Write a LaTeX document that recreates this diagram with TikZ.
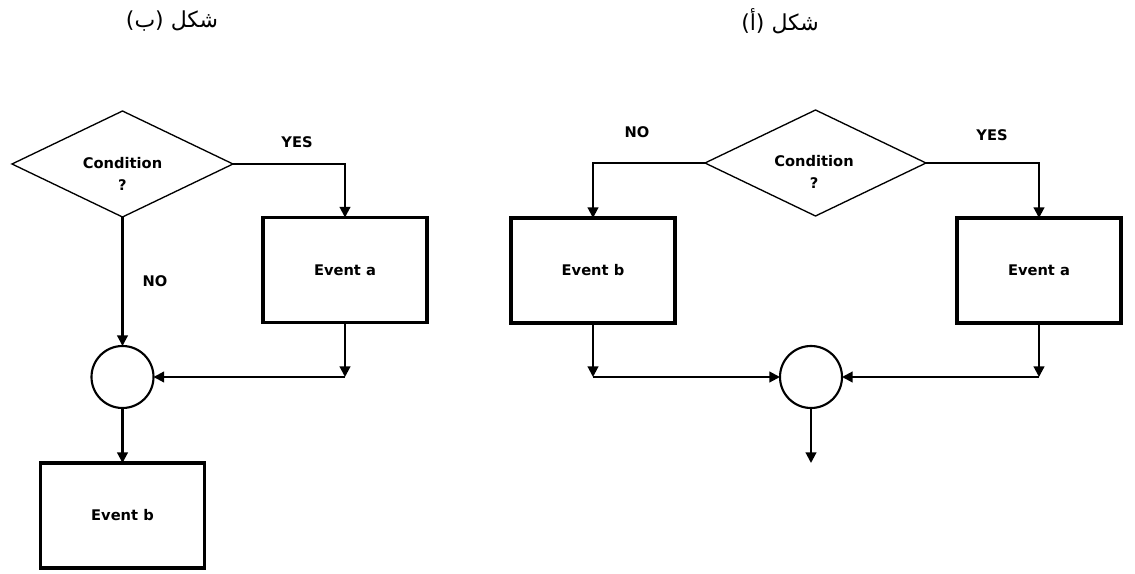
\documentclass[tikz,border=0pt]{standalone}
\usepackage{fontspec}
\setmainfont{DejaVu Sans}
\newfontfamily\arabicfont[Script=Arabic]{DejaVu Sans}
\TeXXeTstate=1
\usetikzlibrary{shapes.geometric,arrows.meta}

\tikzset{
  decision/.style={draw, shape=diamond, line width=1pt, inner sep=0pt, outer sep=0pt,
    minimum width=165.75pt, minimum height=79.5pt},
  eventbox/.style={draw, rectangle, line width=2.4pt, inner sep=0pt, outer sep=0pt,
    minimum width=123pt, minimum height=78.75pt, font=\fontsize{11}{13}\selectfont\bfseries},
  joint/.style={draw, circle, line width=1.6pt, inner sep=0pt, outer sep=0pt, minimum size=46.5pt},
  conn/.style={line width=1.6pt, -{Triangle[length=8pt,width=8pt]}},
  lbl/.style={font=\fontsize{11}{16.5}\selectfont\bfseries, inner sep=0pt, align=center},
  heading/.style={font=\fontsize{16.5}{18}\arabicfont, inner sep=0pt}
}

\begin{document}
\begin{tikzpicture}[x=0.75pt, y=-0.75pt]
\useasboundingbox (0,0) rectangle (1135,574);

% ---------- figure (b): left ----------
\node[heading] (titleB) at (172,21) {\beginR شكل (ب)\endR};

\node[decision] (condL) at (122.5,164) {};
\node[lbl] (condLtxt) at (122.5,174) {Condition\\?};
\node[eventbox] (eaL) at (345,270) {Event a};
\node[joint] (circL) at (122.5,377) {};
\node[eventbox] (ebL) at (122.5,515.5) {Event b};
\coordinate (cjL) at (345,377);

\draw[conn] (condL.east) -| (eaL.north);
\draw[conn] (condL.south) -- (circL.north);
\draw[conn] (eaL.south) -- (cjL);
\draw[conn] (cjL) -- (circL.east);
\draw[conn] (circL.south) -- (ebL.north);

\node[lbl] (yesL) at (297,142) {YES};
\node[lbl] (noL) at (155,281) {NO};

% ---------- figure (a): right ----------
\node[heading] (titleA) at (780,21) {\beginR شكل (أ)\endR};

\node[decision] (condR) at (815.5,163) {};
\node[lbl] (condRtxt) at (814,171.5) {Condition\\?};
\node[eventbox] (ebR) at (593,270.5) {Event b};
\node[eventbox] (eaR) at (1039,270.5) {Event a};
\node[joint] (circR) at (811,377) {};
\coordinate (cjR1) at (593,377);
\coordinate (cjR2) at (1039,377);
\coordinate (outR) at (811,463);

\draw[conn] (condR.west) -| (ebR.north);
\draw[conn] (condR.east) -| (eaR.north);
\draw[conn] (ebR.south) -- (cjR1);
\draw[conn] (cjR1) -- (circR.west);
\draw[conn] (eaR.south) -- (cjR2);
\draw[conn] (cjR2) -- (circR.east);
\draw[conn] (circR.south) -- (outR);

\node[lbl] (noR) at (637,132) {NO};
\node[lbl] (yesR) at (992,135) {YES};
\end{tikzpicture}
\end{document}
